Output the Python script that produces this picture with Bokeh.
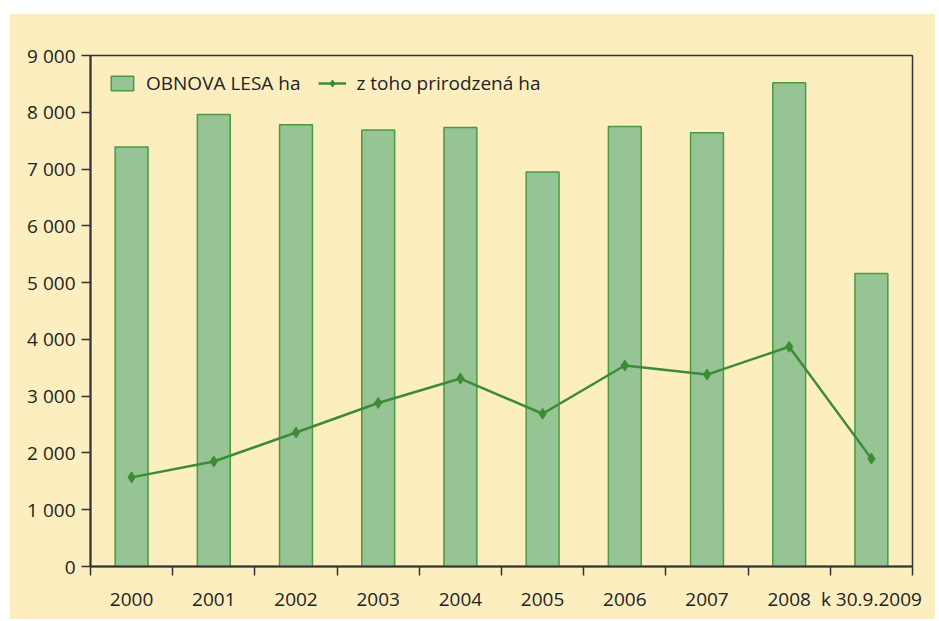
from bokeh.plotting import figure
from bokeh.models import FixedTicker, ColumnDataSource, Legend, LegendItem, Spacer
from bokeh.layouts import column, row
from bokeh.embed import file_html
from bokeh.resources import INLINE

categories = ["2000", "2001", "2002", "2003", "2004", "2005", "2006", "2007", "2008", "k 30.9.2009"]
obnova = [7390, 7960, 7780, 7690, 7730, 6950, 7750, 7640, 8520, 5160]
prirodzena = [1570, 1850, 2360, 2880, 3310, 2690, 3540, 3380, 3870, 1900]
y_ticks = [0, 1000, 2000, 3000, 4000, 5000, 6000, 7000, 8000, 9000]
y_labels = ["0", "1 000", "2 000", "3 000", "4 000", "5 000", "6 000", "7 000", "8 000", "9 000"]

BG = "#fdeec0"
BAR_FILL = "#97c495"
BAR_LINE = "#4a9a40"
LINE = "#3c8c36"
FONT = "Open Sans"

xs = [i + 0.5 for i in range(len(categories))]
src = ColumnDataSource(dict(x=xs, top=obnova, line=prirodzena))

p = figure(width=926, height=606, x_range=(0, len(categories)), y_range=(0, 9000),
           output_backend="svg", toolbar_location=None,
           background_fill_color=BG, border_fill_color=BG,
           min_border_left=81, min_border_right=23, min_border_top=42, min_border_bottom=53)
p.outline_line_color = "#333333"
p.outline_line_width = 1.5
p.grid.visible = False

bars = p.vbar(x="x", top="top", width=0.4, bottom=0, source=src,
              fill_color=BAR_FILL, line_color=BAR_LINE, line_width=1.5)
ln = p.line(x="x", y="line", source=src, line_color=LINE, line_width=2.5)
mk = p.scatter(x="x", y="line", source=src, marker="diamond", size=11,
               fill_color=LINE, line_color=LINE)

# x axis
p.xaxis.ticker = FixedTicker(ticks=xs, minor_ticks=list(range(len(categories) + 1)))
p.xaxis.major_label_overrides = {x: c for x, c in zip(xs, categories)}
p.xaxis.major_tick_line_color = None
p.xaxis.major_tick_out = 0
p.xaxis.major_tick_in = 0
p.xaxis.minor_tick_out = 9
p.xaxis.minor_tick_in = 0
p.xaxis.minor_tick_line_color = "#333333"
p.xaxis.minor_tick_line_width = 1.5
p.xaxis.axis_line_color = "#333333"
p.xaxis.axis_line_width = 2
p.xaxis.major_label_standoff = 10
p.xaxis.major_label_text_font = FONT
p.xaxis.major_label_text_font_size = "19px"
p.xaxis.major_label_text_color = "#222222"

# y axis
p.yaxis.ticker = FixedTicker(ticks=y_ticks)
p.yaxis.major_label_overrides = {t: l for t, l in zip(y_ticks, y_labels)}
p.yaxis.minor_tick_line_color = None
p.yaxis.major_tick_out = 9
p.yaxis.major_tick_in = 0
p.yaxis.major_tick_line_color = "#333333"
p.yaxis.major_tick_line_width = 1.5
p.yaxis.axis_line_color = "#333333"
p.yaxis.axis_line_width = 2
p.yaxis.major_label_standoff = 6
p.yaxis.major_label_text_font = FONT
p.yaxis.major_label_text_font_size = "19px"
p.yaxis.major_label_text_color = "#222222"

legend = Legend(items=[LegendItem(label="OBNOVA LESA ha", renderers=[bars]),
                       LegendItem(label="z toho prirodzená ha", renderers=[ln, mk])],
                location=(18, 470), orientation="horizontal",
                background_fill_alpha=0, border_line_color=None,
                label_text_font=FONT, label_text_font_size="19px", label_text_color="#222222",
                glyph_width=28, glyph_height=18, spacing=18, margin=0, padding=10,
                label_standoff=10)
p.add_layout(legend)

layout = row(Spacer(width=9, height=619), column(Spacer(height=13, width=926), p))
open("out.html", "w").write(file_html(layout, INLINE))
